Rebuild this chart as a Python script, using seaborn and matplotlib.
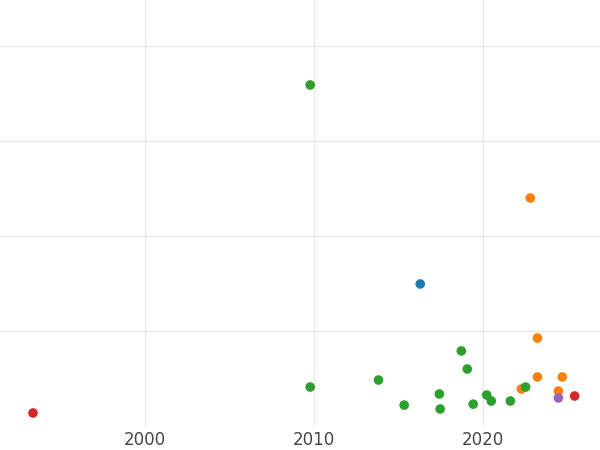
import matplotlib
matplotlib.use("Agg")
import matplotlib.pyplot as plt
import seaborn as sns
import pandas as pd

years = [1993.37, 2009.76, 2022.78, 2016.27, 2023.2, 2018.7, 2019.05, 2009.76, 2013.8, 2015.32,
         2017.4, 2017.45, 2019.4, 2020.2, 2020.47, 2021.6, 2022.25, 2022.5, 2023.2, 2024.67,
         2024.44, 2024.44, 2025.4]
values = [0.137, 3.59, 2.40, 1.495, 0.926, 0.79, 0.60, 0.41, 0.484, 0.22,
          0.337, 0.179, 0.23, 0.326, 0.263, 0.263, 0.39, 0.41, 0.516, 0.516,
          0.368, 0.295, 0.316]
groups = ["D", "C", "B", "A", "B", "C", "C", "C", "C", "C",
          "C", "C", "C", "C", "C", "C", "B", "C", "B", "B",
          "B", "E", "D"]
palette = {"A": "#1f77b4", "B": "#ff7f0e", "C": "#2ca02c", "D": "#d62728", "E": "#9467bd"}

df = pd.DataFrame({"year": years, "value": values, "group": groups})

sns.set_style("whitegrid")
fig = plt.figure(figsize=(6, 4.5), dpi=100)
ax = fig.add_axes([0, 24/450, 1, 426/450])
sns.scatterplot(data=df, x="year", y="value", hue="group", palette=palette,
                s=48, edgecolor="none", legend=False, ax=ax, zorder=3)
ax.set_xlim(1991.42, 2026.9)
ax.set_ylim(0, 426/95)
ax.set_xticks([2000, 2010, 2020])
ax.set_yticks([1, 2, 3, 4])
ax.set_yticklabels([])
ax.tick_params(axis="y", length=0)
ax.tick_params(axis="x", labelsize=12, colors="#444444", length=0)
ax.set_xlabel("")
ax.set_ylabel("")
ax.grid(color="#e8e8e8", linewidth=1)
for s in ax.spines.values():
    s.set_visible(False)
fig.savefig("out.png", dpi=100)
